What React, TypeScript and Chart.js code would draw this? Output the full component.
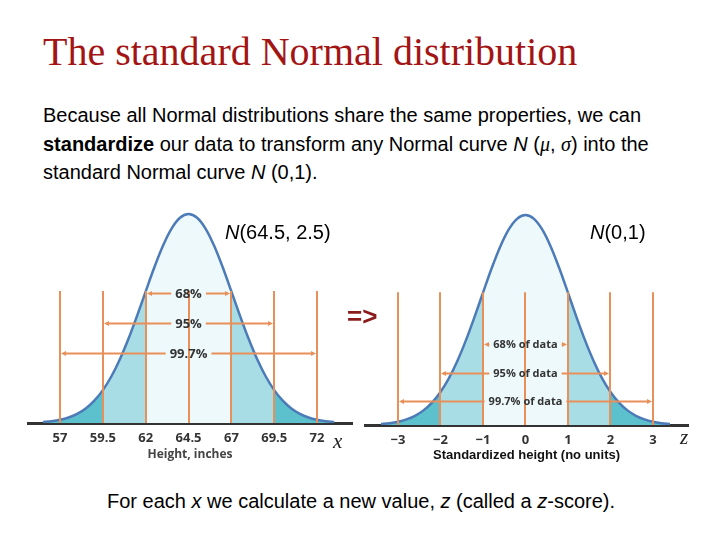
import React, { useEffect, useRef } from "react";
import { Chart, registerables } from "chart.js";

Chart.register(...registerables);

// ---------- data ----------
const heightInches = [
  56, 56.5, 57, 57.5, 58, 58.5, 59, 59.5, 60, 60.5, 61, 61.5, 62, 62.5, 63, 63.5, 64, 64.5,
  65, 65.5, 66, 66.5, 67, 67.5, 68, 68.5, 69, 69.5, 70, 70.5, 71, 71.5, 72, 72.5, 73,
];
const zScores = [
  -3.4, -3.2, -3.0, -2.8, -2.6, -2.4, -2.2, -2.0, -1.8, -1.6, -1.4, -1.2, -1.0, -0.8, -0.6, -0.4, -0.2, 0,
  0.2, 0.4, 0.6, 0.8, 1.0, 1.2, 1.4, 1.6, 1.8, 2.0, 2.2, 2.4, 2.6, 2.8, 3.0, 3.2, 3.4,
];
const curveDensity = [
  0.0019, 0.0035, 0.0062, 0.0106, 0.0175, 0.0278, 0.0426, 0.0628, 0.0892, 0.1222, 0.1612, 0.205,
  0.2512, 0.2967, 0.3377, 0.3705, 0.3916, 0.3989, 0.3916, 0.3705, 0.3377, 0.2967, 0.2512, 0.205,
  0.1612, 0.1222, 0.0892, 0.0628, 0.0426, 0.0278, 0.0175, 0.0106, 0.0062, 0.0035, 0.0019,
];

const heightTicks = [57, 59.5, 62, 64.5, 67, 69.5, 72];
const heightTickLabels = ["57", "59.5", "62", "64.5", "67", "69.5", "72"];
const zTicks = [-3, -2, -1, 0, 1, 2, 3];
const zTickLabels = ["\u22123", "\u22122", "\u22121", "0", "1", "2", "3"];

const guideTop = 0.252;

const heightArrowLabels = ["68%", "95%", "99.7%"];
const heightArrowFrom = [62, 59.5, 57];
const heightArrowTo = [67, 69.5, 72];
const heightArrowLevels = [0.248, 0.1908, 0.1336];

const zArrowLabels = ["68% of data", "95% of data", "99.7% of data"];
const zArrowFrom = [-1, -2, -3];
const zArrowTo = [1, 2, 3];
const zArrowLevels = [0.1539, 0.0988, 0.0456];

// ---------- styles ----------
const OUTER = "#5cc1cc";
const MID = "#a8dde6";
const CENTER = "#eef9fb";
const CURVE = "#4c7bb8";
const ORANGE = "#e8905a";
const AXIS = "#333333";

type ChartSpec = {
  xs: number[];
  ticks: number[];
  tickLabels: string[];
  xMin: number;
  xMax: number;
  yMax: number;
  padLeft: number;
  padRight: number;
  axisHeight: number;
  title: string;
  titleFont: any;
  titleColor: string;
  titlePadBottom: number;
  arrowLabels: string[];
  arrowFrom: number[];
  arrowTo: number[];
  arrowLevels: number[];
  arrowFont: string;
  center: number;
};

function band(xs: number[], ys: number[], lo: number, hi: number) {
  const pts: { x: number; y: number }[] = [];
  xs.forEach((x, i) => {
    if (x >= lo - 1e-9 && x <= hi + 1e-9) pts.push({ x, y: ys[i] });
  });
  return pts;
}

function makeGuides(spec: ChartSpec) {
  return {
    id: "guides",
    afterDatasetsDraw(chart: any) {
      const { ctx } = chart;
      const x = chart.scales.x;
      const y = chart.scales.y;
      const base = y.getPixelForValue(0);
      const top = y.getPixelForValue(guideTop);
      ctx.save();
      ctx.strokeStyle = ORANGE;
      ctx.fillStyle = ORANGE;
      ctx.lineWidth = 2;
      spec.ticks.forEach((v) => {
        const px = Math.round(x.getPixelForValue(v));
        ctx.beginPath();
        ctx.moveTo(px, base);
        ctx.lineTo(px, top);
        ctx.stroke();
      });
      ctx.font = spec.arrowFont;
      ctx.textAlign = "center";
      ctx.textBaseline = "middle";
      const cx = x.getPixelForValue(spec.center);
      spec.arrowLabels.forEach((label, i) => {
        const x1 = Math.round(x.getPixelForValue(spec.arrowFrom[i])) + 1;
        const x2 = Math.round(x.getPixelForValue(spec.arrowTo[i])) - 1;
        const py = Math.round(y.getPixelForValue(spec.arrowLevels[i])) + 0.5;
        const w = ctx.measureText(label).width;
        ctx.strokeStyle = ORANGE;
        ctx.fillStyle = ORANGE;
        ctx.lineWidth = 2;
        ctx.beginPath();
        ctx.moveTo(x1 + 4, py);
        ctx.lineTo(cx - w / 2 - 4, py);
        ctx.moveTo(cx + w / 2 + 4, py);
        ctx.lineTo(x2 - 4, py);
        ctx.stroke();
        // arrowheads
        ctx.beginPath();
        ctx.moveTo(x1, py);
        ctx.lineTo(x1 + 5, py - 2.5);
        ctx.lineTo(x1 + 5, py + 2.5);
        ctx.closePath();
        ctx.fill();
        ctx.beginPath();
        ctx.moveTo(x2, py);
        ctx.lineTo(x2 - 5, py - 2.5);
        ctx.lineTo(x2 - 5, py + 2.5);
        ctx.closePath();
        ctx.fill();
        ctx.fillStyle = "#333333";
        ctx.fillText(label, cx, py + 0.5);
      });
      ctx.restore();
    },
  };
}

function buildConfig(spec: ChartSpec): any {
  const t = spec.ticks;
  const common = {
    type: "line",
    parsing: false,
    pointRadius: 0,
    cubicInterpolationMode: "monotone",
  };
  const fillSet = (lo: number, hi: number, color: string) => ({
    ...common,
    data: band(spec.xs, curveDensity, lo, hi),
    borderWidth: 0,
    borderColor: color,
    backgroundColor: color,
    fill: "origin",
  });
  return {
    type: "line",
    data: {
      datasets: [
        {
          ...common,
          data: spec.xs.map((x, i) => ({ x, y: curveDensity[i] })),
          borderColor: CURVE,
          borderWidth: 2.5,
          fill: false,
        },
        fillSet(-Infinity, t[1], OUTER),
        fillSet(t[1], t[2], MID),
        fillSet(t[2], t[4], CENTER),
        fillSet(t[4], t[5], MID),
        fillSet(t[5], Infinity, OUTER),
      ],
    },
    options: {
      responsive: false,
      animation: false,
      events: [],
      layout: { padding: { left: spec.padLeft, right: spec.padRight, top: 10, bottom: 0 } },
      plugins: { legend: { display: false }, tooltip: { enabled: false } },
      scales: {
        x: {
          type: "linear",
          min: spec.xMin,
          max: spec.xMax,
          z: 1,
          afterBuildTicks: (scale: any) => {
            scale.ticks = spec.ticks.map((v) => ({ value: v }));
          },
          afterFit: (scale: any) => {
            scale.height = spec.axisHeight;
          },
          grid: { display: false, drawTicks: false },
          border: { display: true, color: AXIS, width: 3 },
          ticks: {
            autoSkip: false,
            maxRotation: 0,
            padding: 7,
            color: "#333333",
            font: { family: "'Open Sans', sans-serif", size: 13, weight: "bold" },
            callback: (value: number) => {
              const idx = spec.ticks.findIndex((v) => Math.abs(v - value) < 1e-9);
              return idx >= 0 ? spec.tickLabels[idx] : "";
            },
          },
          title: {
            display: true,
            text: spec.title,
            color: spec.titleColor,
            font: spec.titleFont,
            padding: { top: 0, bottom: spec.titlePadBottom },
          },
        },
        y: { display: false, min: 0, max: spec.yMax },
      },
    },
    plugins: [makeGuides(spec)],
  };
}

const leftSpec: ChartSpec = {
  xs: heightInches,
  ticks: heightTicks,
  tickLabels: heightTickLabels,
  xMin: 55.13,
  xMax: 74.04,
  yMax: 0.4065,
  padLeft: 28,
  padRight: 8,
  axisHeight: 47,
  title: "Height, inches",
  titleFont: { family: "'Open Sans', sans-serif", size: 12, weight: "bold" },
  titleColor: "#444444",
  titlePadBottom: 8,
  arrowLabels: heightArrowLabels,
  arrowFrom: heightArrowFrom,
  arrowTo: heightArrowTo,
  arrowLevels: heightArrowLevels,
  arrowFont: "bold 13px 'Open Sans', sans-serif",
  center: 64.5,
};

const rightSpec: ChartSpec = {
  xs: zScores,
  ticks: zTicks,
  tickLabels: zTickLabels,
  xMin: -3.776,
  xMax: 3.824,
  yMax: 0.4084,
  padLeft: 5,
  padRight: 32,
  axisHeight: 45,
  title: "Standardized height (no units)",
  titleFont: { family: "'Liberation Sans', Arial, sans-serif", size: 13, weight: "bold" },
  titleColor: "#111111",
  titlePadBottom: 7,
  arrowLabels: zArrowLabels,
  arrowFrom: zArrowFrom,
  arrowTo: zArrowTo,
  arrowLevels: zArrowLevels,
  arrowFont: "bold 11px 'Open Sans', sans-serif",
  center: 0,
};

function NormalChart({ spec, left, top }: { spec: ChartSpec; left: number; top: number }) {
  const ref = useRef<HTMLCanvasElement | null>(null);
  useEffect(() => {
    if (!ref.current) return;
    const chart = new Chart(ref.current, buildConfig(spec));
    return () => chart.destroy();
  }, [spec]);
  return (
    <div style={{ position: "absolute", left, top, width: 360, height: 270 }}>
      <canvas ref={ref} width={360} height={270} style={{ width: 360, height: 270, display: "block" }} />
    </div>
  );
}

const sans = "'Liberation Sans', Arial, sans-serif";
const serif = "'Liberation Serif', 'Times New Roman', serif";

export default function App() {
  return (
    <div
      style={{
        position: "absolute",
        left: 0,
        top: 0,
        width: 720,
        height: 540,
        background: "#ffffff",
        overflow: "hidden",
        fontFamily: sans,
        color: "#000",
      }}
    >
      <div
        style={{
          position: "absolute",
          left: 43,
          top: 31.5,
          fontFamily: serif,
          fontSize: 40,
          lineHeight: "40px",
          color: "#a31515",
          whiteSpace: "nowrap",
        }}
      >
        The standard Normal distribution
      </div>
      <div
        style={{
          position: "absolute",
          left: 43,
          top: 101,
          fontSize: 20,
          lineHeight: "28.5px",
          whiteSpace: "nowrap",
        }}
      >
        Because all Normal distributions share the same properties, we can
        <br />
        <b>standardize</b> our data to transform any Normal curve <i>N</i> (<i style={{ fontFamily: serif }}>μ</i>,{" "}
        <i style={{ fontFamily: serif }}>σ</i>) into the
        <br />
        standard Normal curve <i>N</i> (0,1).
      </div>

      <NormalChart spec={leftSpec} left={0} top={200} />
      <NormalChart spec={rightSpec} left={360} top={200} />

      <div style={{ position: "absolute", left: 225, top: 220, fontSize: 20, lineHeight: "24px", whiteSpace: "nowrap" }}>
        <i>N</i>(64.5, 2.5)
      </div>
      <div style={{ position: "absolute", left: 590, top: 220, fontSize: 20, lineHeight: "24px", whiteSpace: "nowrap" }}>
        <i>N</i>(0,1)
      </div>
      <div
        style={{
          position: "absolute",
          left: 347,
          top: 301,
          fontSize: 26,
          lineHeight: "30px",
          fontWeight: "bold",
          color: "#8b1a1a",
          whiteSpace: "nowrap",
        }}
      >
        =&gt;
      </div>
      <div
        style={{
          position: "absolute",
          left: 333,
          top: 431,
          fontFamily: serif,
          fontStyle: "italic",
          fontSize: 21,
          lineHeight: "21px",
          color: "#222",
        }}
      >
        x
      </div>
      <div
        style={{
          position: "absolute",
          left: 680,
          top: 427,
          fontFamily: serif,
          fontStyle: "italic",
          fontSize: 21,
          lineHeight: "21px",
          color: "#222",
        }}
      >
        z
      </div>

      <div style={{ position: "absolute", left: 107, top: 489, fontSize: 20, lineHeight: "24px", whiteSpace: "nowrap" }}>
        For each <i>x</i> we calculate a new value, <i>z</i> (called a <i>z</i>-score).
      </div>
    </div>
  );
}
